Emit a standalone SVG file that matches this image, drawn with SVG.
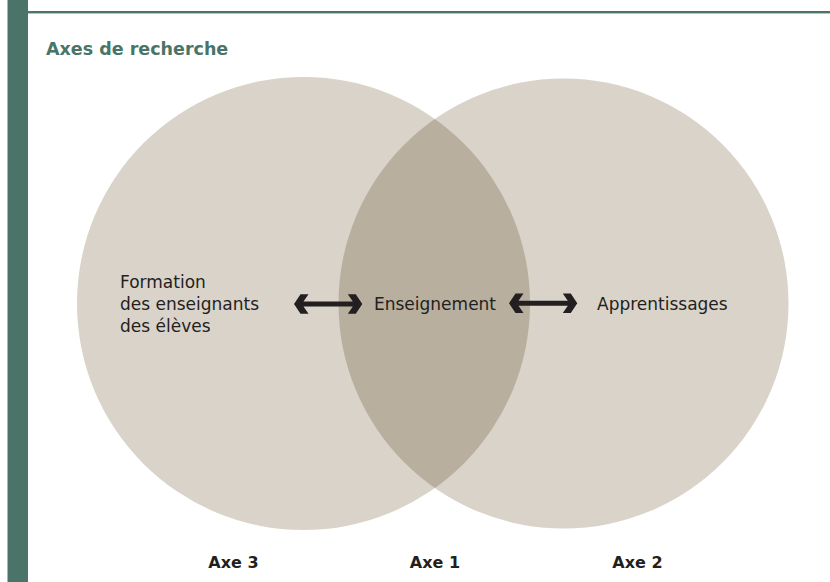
<svg xmlns="http://www.w3.org/2000/svg" width="830" height="582" viewBox="0 0 830 582">
  <style>
    .circ { fill: #d9d3c9; }
    .lens { fill: #b8af9e; }
    .lbl { font-family: "DejaVu Sans", "Liberation Sans", sans-serif; font-size: 17px; fill: #231f20; }
    .axe { font-family: "DejaVu Sans", "Liberation Sans", sans-serif; font-size: 16px; font-weight: bold; fill: #231f20; text-anchor: middle; }
    .title { font-family: "DejaVu Sans", "Liberation Sans", sans-serif; font-size: 17.5px; font-weight: bold; fill: #4a7468; }
    .arrow { fill: #231f20; }
  </style>
  <defs>
    <clipPath id="clipLeft">
      <circle cx="303.5" cy="303.5" r="226.5"/>
    </clipPath>
    <polygon id="dblArrow" points="294,304 300.5,294.3 308.5,294.3 303.5,301.5 352.8,301.5 347.8,294.3 355.8,294.3 362.3,304 355.8,313.7 347.8,313.7 352.8,306.5 303.5,306.5 308.5,313.7 300.5,313.7"/>
  </defs>
  <rect width="830" height="582" fill="#ffffff"/>
  <rect x="7.5" y="0" width="20.5" height="582" fill="#4a7468"/>
  <rect x="28" y="11" width="802" height="2.4" fill="#4a7468"/>
  <text class="title" x="46" y="54.5">Axes de recherche</text>

  <g id="axe3">
    <circle class="circ" cx="303.5" cy="303.5" r="226.5"/>
  </g>
  <g id="axe2">
    <circle class="circ" cx="563.5" cy="303.5" r="225"/>
  </g>
  <g id="axe1">
    <circle class="lens" cx="563.5" cy="303.5" r="225" clip-path="url(#clipLeft)"/>
  </g>

  <g id="label-formation">
    <text class="lbl" x="120" y="287.5">Formation</text>
    <text class="lbl" x="120" y="309.5">des enseignants</text>
    <text class="lbl" x="120" y="331.5">des élèves</text>
  </g>
  <g id="label-enseignement">
    <text class="lbl" x="374" y="309.5">Enseignement</text>
  </g>
  <g id="label-apprentissages">
    <text class="lbl" x="597" y="309.5">Apprentissages</text>
  </g>

  <g id="connectors">
    <use href="#dblArrow" class="arrow"/>
    <use href="#dblArrow" class="arrow" transform="translate(215,-0.7)"/>
  </g>

  <g id="axis-labels">
    <text class="axe" x="233.5" y="567.5">Axe 3</text>
    <text class="axe" x="435" y="567.5">Axe 1</text>
    <text class="axe" x="637.5" y="567.5">Axe 2</text>
  </g>
</svg>
